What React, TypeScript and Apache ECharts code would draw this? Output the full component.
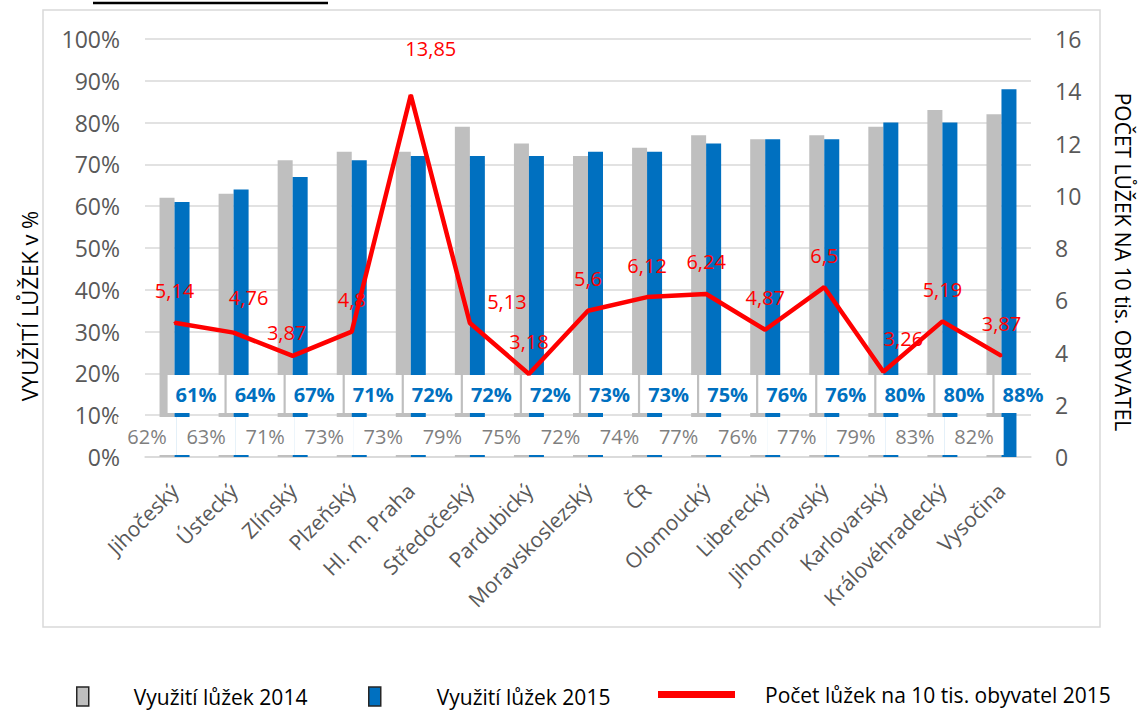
import React, { useEffect, useRef } from "react";
import * as echarts from "echarts";

const categories = [
  "Jihočeský",
  "Ústecký",
  "Zlínský",
  "Plzeňský",
  "Hl. m. Praha",
  "Středočeský",
  "Pardubický",
  "Moravskoslezský",
  "ČR",
  "Olomoucký",
  "Liberecký",
  "Jihomoravský",
  "Karlovarský",
  "Královéhradecký",
  "Vysočina",
];
const occupancy2014 = [62, 63, 71, 73, 73, 79, 75, 72, 74, 77, 76, 77, 79, 83, 82];
const occupancy2015 = [61, 64, 67, 71, 72, 72, 72, 73, 73, 75, 76, 76, 80, 80, 88];
const bedsPer10k2015 = [5.14, 4.76, 3.87, 4.8, 13.85, 5.13, 3.18, 5.6, 6.12, 6.24, 4.87, 6.5, 3.26, 5.19, 3.87];

const seriesNames = ["Využití lůžek 2014", "Využití lůžek 2015", "Počet lůžek na 10 tis. obyvatel 2015"];
const leftAxisTitle = "VYUŽITÍ LŮŽEK v %";
const rightAxisTitle = "POČET LŮŽEK NA 10 tis. OBYVATEL";

// label nudges (style only) for hand-placed data labels of the line
const lineLabelNudge: Record<number, number[]> = {
  1: [15, -3],
  2: [-6, 9],
  4: [20, -15],
  5: [37, 11],
  12: [20, -1],
};

const FONT = "'Open Sans', 'Noto Sans', sans-serif";
const GREY = "#BFBFBF";
const BLUE = "#0070C0";
const RED = "#FF0000";

export default function App() {
  const ref = useRef<HTMLDivElement>(null);
  useEffect(() => {
    if (!ref.current) return;
    const chart = echarts.init(ref.current, undefined, { renderer: "svg" });
    const fmtComma = (v: number) => String(v).replace(".", ",");
    const option: any = {
      animation: false,
      backgroundColor: "#fff",
      textStyle: { fontFamily: FONT },
      grid: {
        left: 145,
        right: 108,
        top: 39,
        bottom: 254,
        containLabel: false,
        outerBoundsMode: "none",
      },
      xAxis: {
        type: "category",
        data: categories,
        axisLine: { lineStyle: { color: "#d9d9d9", width: 1.5 } },
        axisTick: { show: false },
        axisLabel: {
          rotate: 45,
          interval: 0,
          fontSize: 21,
          color: "#595959",
          fontFamily: FONT,
          margin: 30,
        },
      },
      yAxis: [
        {
          type: "value",
          min: 0,
          max: 100,
          interval: 10,
          axisLine: { show: false },
          axisTick: { show: false },
          axisLabel: { formatter: "{value}%", fontSize: 23, color: "#595959", fontFamily: FONT, margin: 25 },
          splitLine: { lineStyle: { color: "#d9d9d9", width: 1.5 } },
        },
        {
          type: "value",
          position: "right",
          min: 0,
          max: 16,
          interval: 2,
          axisLine: { show: false },
          axisTick: { show: false },
          axisLabel: { fontSize: 23, color: "#595959", fontFamily: FONT, margin: 24 },
          splitLine: { show: false },
        },
      ],
      legend: [
        {
          left: 76,
          top: 686,
          padding: 0,
          itemWidth: 12,
          itemHeight: 19,
          icon: "rect",
          data: [{ name: seriesNames[0], itemStyle: { borderColor: "#262626", borderWidth: 1.5 } }],
          textStyle: { fontSize: 21, color: "#000", fontFamily: FONT, padding: [0, 0, 0, 40] },
        },
        {
          left: 368,
          top: 686,
          padding: 0,
          itemWidth: 12,
          itemHeight: 19,
          icon: "rect",
          data: [{ name: seriesNames[1], itemStyle: { borderColor: "#262626", borderWidth: 1.5 } }],
          textStyle: { fontSize: 21, color: "#000", fontFamily: FONT, padding: [0, 0, 0, 51] },
        },
        {
          left: 658,
          top: 684,
          padding: 0,
          itemWidth: 77,
          itemHeight: 7,
          icon: "rect",
          data: [{ name: seriesNames[2], icon: "rect" }],
          textStyle: { fontSize: 21, color: "#000", fontFamily: FONT, padding: [0, 0, 0, 25] },
        },
      ],
      graphic: [
        {
          type: "rect",
          shape: { x: 43, y: 10, width: 1057, height: 617 },
          style: { fill: "none", stroke: "#d9d9d9", lineWidth: 1.5 },
          silent: true,
        },
        {
          type: "line",
          shape: { x1: 93, y1: 3, x2: 328, y2: 3 },
          style: { stroke: "#000", lineWidth: 2.5 },
          silent: true,
        },
        {
          type: "text",
          x: 29,
          y: 306,
          rotation: Math.PI / 2,
          style: {
            text: leftAxisTitle,
            fill: "#000",
            fontSize: 22,
            fontFamily: FONT,
            align: "center",
            verticalAlign: "middle",
            textAlign: "center",
            textVerticalAlign: "middle",
          },
        },
        {
          type: "text",
          x: 1123,
          y: 262,
          rotation: -Math.PI / 2,
          style: {
            text: rightAxisTitle,
            fill: "#000",
            fontSize: 21,
            fontFamily: FONT,
            align: "center",
            verticalAlign: "middle",
            textAlign: "center",
            textVerticalAlign: "middle",
          },
        },
      ],
      series: [
        {
          name: seriesNames[0],
          type: "bar",
          data: occupancy2014,
          barWidth: 15,
          barGap: "0%",
          itemStyle: { color: GREY },
          label: {
            show: true,
            position: "insideBottom",
            distance: 2,
            offset: [-20, 0],
            formatter: "{c}%",
            color: "#7F7F7F",
            fontSize: 20,
            fontFamily: FONT,
            backgroundColor: "#fff",
            padding: [9, 10],
          },
        },
        {
          name: seriesNames[1],
          type: "bar",
          data: occupancy2015,
          barWidth: 15,
          barGap: "0%",
          itemStyle: { color: BLUE },
          label: {
            show: true,
            position: "insideBottom",
            distance: 44,
            offset: [14, 0],
            formatter: "{c}%",
            color: BLUE,
            fontWeight: "bold",
            fontSize: 20,
            fontFamily: FONT,
            backgroundColor: "#fff",
            padding: [9, 8],
          },
        },
        {
          name: seriesNames[2],
          type: "line",
          yAxisIndex: 1,
          z: 3,
          data: bedsPer10k2015.map((v, i) =>
            lineLabelNudge[i] ? { value: v, label: { offset: lineLabelNudge[i] } } : v
          ),
          symbol: "circle",
          symbolSize: 2,
          itemStyle: { color: RED },
          lineStyle: { color: RED, width: 4.5 },
          label: {
            show: true,
            position: "top",
            distance: 21,
            color: RED,
            fontSize: 20,
            fontFamily: FONT,
            formatter: (p: any) => fmtComma(p.value),
          },
        },
      ],
    };
    chart.setOption(option);
    return () => chart.dispose();
  }, []);
  return (
    <div
      ref={ref}
      style={{ position: "absolute", left: 0, top: 0, width: 1139, height: 711 }}
    />
  );
}
